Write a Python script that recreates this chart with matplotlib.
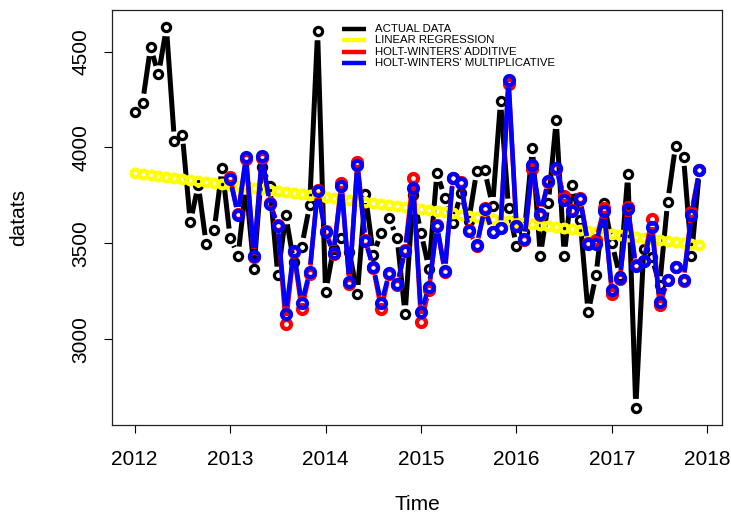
import numpy as np
import matplotlib
matplotlib.use('Agg')
import matplotlib.pyplot as plt
from matplotlib.collections import LineCollection

plt.rcParams['font.family'] = ['Liberation Sans', 'DejaVu Sans']

# ---------------- data (monthly, Jan 2012 - Dec 2017) ----------------
start_year = 2012
actual = [4186, 4234, 4523, 4381, 4626, 4036, 4066, 3610, 3805, 3496, 3569, 3895,
          3530, 3436, 3800, 3367, 3900, 3800, 3332, 3645, 3401, 3482, 3698, 4605,
          3246, 3470, 3526, 3453, 3236, 3757, 3440, 3556, 3630, 3526, 3130, 3750,
          3556, 3367, 3867, 3738, 3605, 3760, 3617, 3876, 3880, 3695, 4243, 3686,
          3485, 3560, 3997, 3436, 3708, 4143, 3436, 3805, 3620, 3139, 3332, 3708,
          3500, 3327, 3863, 2642, 3471, 3430, 3281, 3715, 4010, 3951, 3434, 3880]

# Holt-Winters fitted values (start Jan 2013)
hw_start = 12
hw_additive = [3845, 3652, 3938, 3430, 3945, 3712, 3595, 3079, 3455, 3156, 3342, 3778,
               3565, 3445, 3815, 3288, 3922, 3518, 3372, 3156, 3338, 3280, 3465, 3842,
               3090, 3255, 3595, 3350, 3842, 3818, 3568, 3485, 3682, 3560, 3582, 4333,
               3588, 3518, 3888, 3650, 3820, 3890, 3746, 3672, 3735, 3500, 3515, 3682,
               3238, 3312, 3690, 3385, 3410, 3626, 3177, 3306, 3375, 3305, 3664, 3880]
hw_multiplicative = [3833, 3648, 3952, 3434, 3953, 3705, 3591, 3130, 3460, 3186, 3350, 3771,
                     3558, 3450, 3798, 3298, 3910, 3513, 3375, 3186, 3344, 3286, 3462, 3790,
                     3140, 3273, 3591, 3355, 3838, 3816, 3565, 3491, 3678, 3558, 3578, 4354,
                     3591, 3522, 3910, 3654, 3824, 3893, 3724, 3670, 3729, 3496, 3496, 3669,
                     3255, 3320, 3678, 3379, 3405, 3586, 3194, 3306, 3375, 3310, 3646, 3880]

x_ticks = [2012, 2013, 2014, 2015, 2016, 2017, 2018]
y_ticks = [3000, 3500, 4000, 4500]
legend_labels = ["ACTUAL DATA", "LINEAR REGRESSION",
                 "HOLT-WINTERS' ADDITIVE", "HOLT-WINTERS' MULTIPLICATIVE"]
legend_colors = ["black", "yellow", "red", "blue"]

# ---------------- derived ----------------
t = start_year + np.arange(len(actual)) / 12.0
t_hw = t[hw_start:]
coef = np.polyfit(t, np.array(actual, float), 1)
regression = np.polyval(coef, t)

fig = plt.figure(figsize=(7.31, 5.13), dpi=100)
ax = fig.add_axes([112 / 731, 1 - 425 / 513, 610 / 731, 415 / 513])
ax.set_xlim(2011.763, 2018.153)
ax.set_ylim(2552, 4717)


def draw_b(x, y, color, lw, ms, mew, gap, z):
    """R style type='b': points joined by lines that stop short of the points."""
    pts = ax.transData.transform(np.column_stack([x, y]))
    segs = []
    for p0, p1 in zip(pts[:-1], pts[1:]):
        d = p1 - p0
        L = np.hypot(*d)
        if L > 2 * gap:
            u = d / L
            segs.append(np.array([p0 + u * gap, p1 - u * gap]))
    inv = ax.transData.inverted()
    segs = [inv.transform(s) for s in segs]
    ax.add_collection(LineCollection(segs, colors=color, linewidths=lw,
                                     capstyle='butt', zorder=z))
    ax.plot(x, y, linestyle='none', marker='o', ms=ms, mfc='none',
            mec=color, mew=mew, zorder=z + 0.1)


draw_b(t, actual, 'black', 3.6, 5.9, 2.3, 9, 2)
draw_b(t, regression, 'yellow', 3.2, 5.6, 3.0, 9, 3)
draw_b(t_hw, hw_additive, 'red', 3.3, 6.5, 3.0, 8, 4)
draw_b(t_hw, hw_multiplicative, 'blue', 3.3, 6.5, 3.0, 8, 5)

# axes styling (R base look)
ax.set_xticks(x_ticks)
ax.set_xticklabels([str(v) for v in x_ticks])
ax.set_yticks(y_ticks)
ax.set_yticklabels([str(v) for v in y_ticks], rotation=90, va='center')
ax.tick_params(direction='out', length=5.8, width=0.8, labelsize=15, color='black')
ax.tick_params(axis='x', pad=12)
ax.tick_params(axis='y', pad=10)
for s in ax.spines.values():
    s.set_linewidth(0.9)
    s.set_color('#222222')

ax.set_xlabel('Time', fontsize=15)
ax.xaxis.set_label_coords(0.5, -(495 - 425) / 415)
ax.set_ylabel('datats', fontsize=15)
ax.yaxis.set_label_coords(-(112 - 28) / 610, 0.5)

# legend (no box), drawn in axes coordinates
lx0, lx1, tx = (342 - 112) / 610, (366 - 112) / 610, (375 - 112) / 610
ly0, lstep = 1 - (29 - 10) / 415, 11.3 / 415
for k, (lab, col) in enumerate(zip(legend_labels, legend_colors)):
    yy = ly0 - k * lstep
    ax.plot([lx0, lx1], [yy, yy], color=col, lw=3.2, transform=ax.transAxes,
            solid_capstyle='butt', zorder=10)
    ax.text(tx, yy, lab, fontsize=8.2, va='center', ha='left',
            transform=ax.transAxes, zorder=10)

fig.savefig('out.png', dpi=100)
